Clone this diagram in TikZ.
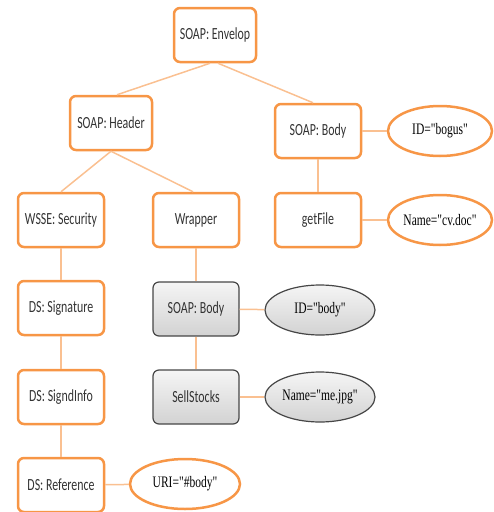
\documentclass[tikz,border=0pt]{standalone}
\usepackage{fontspec}
\usepackage{xcolor}
\usepackage{tikz}
\usetikzlibrary{shapes.geometric}
\newfontfamily\boxfont[FakeStretch=0.7]{Carlito}
\newfontfamily\attrfont[FakeStretch=0.72]{Liberation Serif}
\definecolor{soaporange}{RGB}{247,150,70}
\definecolor{linkorange}{RGB}{250,192,145}
\definecolor{greyline}{RGB}{70,70,70}

\begin{document}
\begin{tikzpicture}[
  x=1pt, y=-1pt,
  soapbox/.style={draw=soaporange, line width=2.5pt, rounded corners=6pt,
    fill=white, minimum width=86pt, minimum height=54pt,
    font=\boxfont\fontsize{17}{19}\selectfont, text=black!80},
  greybox/.style={soapbox, draw=greyline, line width=1.2pt,
    top color=gray!8, bottom color=gray!35},
  attr/.style={ellipse, draw=soaporange, line width=2.5pt, fill=white,
    minimum width=104pt, minimum height=50pt, inner sep=0pt,
    font=\attrfont\fontsize{16}{18}\selectfont},
  greyattr/.style={attr, draw=greyline, line width=1.2pt,
    top color=gray!8, bottom color=gray!35},
  link/.style={draw=linkorange, line width=1.5pt}
  ]
\useasboundingbox (0,0) rectangle (494,512);

% top of the tree
\node[soapbox, minimum width=82pt] (envelop) at (215,35) {SOAP: Envelop};
\node[soapbox, minimum width=82pt] (header) at (111,123) {SOAP: Header};
\node[soapbox] (body) at (318,131) {SOAP: Body};
\node[attr] (bogus) at (440,131) {ID="bogus"};

% header branch
\node[soapbox] (security) at (61,220) {WSSE: Security};
\node[soapbox] (wrapper) at (196,220) {Wrapper};
\node[soapbox] (signature) at (61,308) {DS: Signature};
\node[soapbox] (signdinfo) at (61,397) {DS: SigndInfo};
\node[soapbox] (reference) at (61,485) {DS: Reference};
\node[attr, minimum width=110pt] (uri) at (185,484) {URI="\#body"};

% wrapped body
\node[greybox] (wbody) at (196,309) {SOAP: Body};
\node[greybox] (sell) at (196,397) {SellStocks};
\node[greyattr, minimum width=110pt] (idbody) at (320,310) {ID="body"};
\node[greyattr, minimum width=110pt] (mejpg) at (320,397) {Name="me.jpg"};

% real body
\node[soapbox] (getfile) at (318,220) {getFile};
\node[attr] (cvdoc) at (440,220) {Name="cv.doc"};

% connectors
\draw[link] ([xshift=-5pt]envelop.south) -- ([xshift=6pt]header.north);
\draw[link] ([xshift=3pt]envelop.south) -- ([xshift=-5pt]body.north);
\draw[link] (header.south) -- (security.north);
\draw[link] (header.south) -- ([xshift=-3pt]wrapper.north);
\draw[link] (body) -- (bogus);
\draw[link] (body) -- (getfile);
\draw[link] (getfile) -- (cvdoc);
\draw[link] (security) -- (signature);
\draw[link] (signature) -- (signdinfo);
\draw[link] (signdinfo) -- (reference);
\draw[link] (reference) -- (uri);
\draw[link] (wrapper) -- (wbody);
\draw[link] (wbody) -- (sell);
\draw[link] (wbody) -- (idbody);
\draw[link] (sell) -- (mejpg);

\end{tikzpicture}
\end{document}
